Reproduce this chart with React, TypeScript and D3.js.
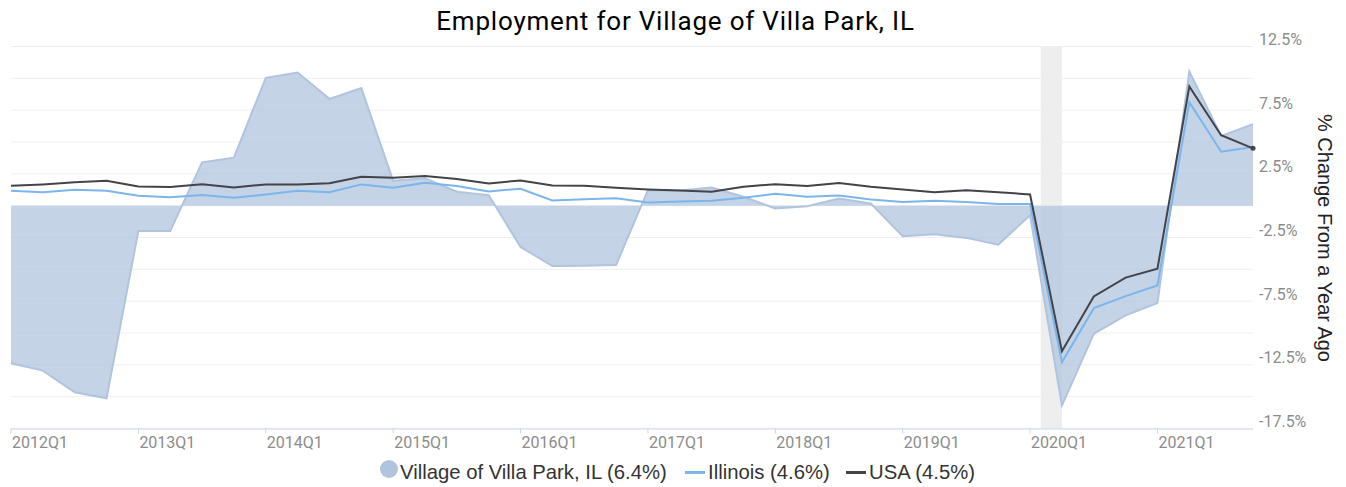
import React from "react";
import * as d3 from "d3";

const quarters: string[] = [];
for (let y = 2012; y <= 2021; y++) for (let q = 1; q <= 4; q++) quarters.push(`${y}Q${q}`);

const villaPark = [-12.38, -12.95, -14.66, -15.13, -1.98, -1.98, 3.4, 3.77, 10.04, 10.46, 8.39, 9.23, 1.95, 2.15, 1.09, 0.83, -3.24, -4.74, -4.71, -4.66, 1.22, 1.2, 1.43, 0.7, -0.22, -0.05, 0.57, 0.17, -2.4, -2.24, -2.53, -3.06, -0.75, -15.7, -10.06, -8.62, -7.65, 10.54, 5.47, 6.4];
const illinois = [1.17, 1.06, 1.25, 1.17, 0.77, 0.67, 0.83, 0.62, 0.88, 1.17, 1.06, 1.67, 1.4, 1.8, 1.54, 1.12, 1.33, 0.41, 0.51, 0.59, 0.25, 0.33, 0.38, 0.62, 0.93, 0.7, 0.8, 0.49, 0.28, 0.38, 0.28, 0.14, 0.14, -12.3, -8.05, -7.1, -6.26, 8.13, 4.24, 4.6];
const usa = [1.56, 1.67, 1.83, 1.95, 1.51, 1.46, 1.69, 1.43, 1.67, 1.67, 1.77, 2.27, 2.19, 2.32, 2.09, 1.75, 1.98, 1.59, 1.56, 1.4, 1.27, 1.19, 1.09, 1.48, 1.69, 1.54, 1.77, 1.48, 1.27, 1.06, 1.22, 1.06, 0.88, -11.43, -7.13, -5.65, -4.95, 9.36, 5.53, 4.5];

const gridValues = [12.5, 10, 7.5, 5, 2.5, 0, -2.5, -5, -7.5, -10, -12.5, -15, -17.5];
const yLabelValues = [12.5, 7.5, 2.5, -2.5, -7.5, -12.5, -17.5];
// recession band: Feb 2020 -> Apr 2020 (in quarter index units)
const recession = [32 + 1 / 3, 33];

const title = "Employment for Village of Villa Park, IL";
const yTitle = "% Change From a Year Ago";
const legendItems = [
  { label: "Village of Villa Park, IL (6.4%)", kind: "area" },
  { label: "Illinois (4.6%)", kind: "line", color: "#7cb5ec" },
  { label: "USA (4.5%)", kind: "line", color: "#434348" },
];

export default function App() {
  const W = 1346, H = 487;
  const x = d3.scaleLinear().domain([0, quarters.length - 1]).range([11, 1253]);
  const y = d3.scaleLinear().domain([-17.5, 12.5]).range([428.5, 46.5]);
  const idx = quarters.map((_, i) => i);

  const area = d3.area<number>().x((i) => x(i)).y0(y(0)).y1((i) => y(villaPark[i]));
  const areaLine = d3.line<number>().x((i) => x(i)).y((i) => y(villaPark[i]));
  const line = (arr: number[]) => d3.line<number>().x((i) => x(i)).y((i) => y(arr[i]))(idx) || "";

  const tickIdx = idx.filter((i) => quarters[i].endsWith("Q1"));
  const legendX = [389, 685, 846];

  return (
    <svg width={W} height={H} style={{ position: "absolute", left: 0, top: 0, background: "#fff" }}>
      <text x={675.5} y={30} textAnchor="middle" fontFamily="Roboto" fontSize={26} letterSpacing={0.8} fill="#000">{title}</text>
      {gridValues.map((v) => (
        <line key={v} x1={11} x2={1253} y1={y(v)} y2={y(v)} stroke="#efefef" strokeWidth={1} />
      ))}
      <rect x={x(recession[0])} y={y(12.5)} width={x(recession[1]) - x(recession[0])} height={y(-17.5) - y(12.5)} fill="#eeeeee" />
      <path d={area(idx) || ""} fill="#b0c4de" fillOpacity={0.75} />
      <path d={areaLine(idx) || ""} fill="none" stroke="#b0c4de" strokeWidth={2} />
      <path d={line(illinois)} fill="none" stroke="#7cb5ec" strokeWidth={2} />
      <path d={line(usa)} fill="none" stroke="#434348" strokeWidth={2} />
      <circle cx={x(39)} cy={y(usa[39])} r={2.5} fill="#434348" />
      <line x1={11} x2={1253} y1={y(-17.5) + 0.5} y2={y(-17.5) + 0.5} stroke="#ccd6eb" strokeWidth={1} />
      {tickIdx.map((i) => (
        <g key={i}>
          <line x1={x(i)} x2={x(i)} y1={y(-17.5)} y2={y(-17.5) + 5} stroke="#ccd6eb" />
          <text x={x(i) + 1} y={447.5} fontFamily="Roboto" fontSize={16} fill="#8c8c8c">{quarters[i]}</text>
        </g>
      ))}
      {yLabelValues.map((v) => (
        <text key={v} x={1259} y={y(v) - 1.5} fontFamily="Roboto" fontSize={16} fill="#8c8c8c">{`${v}%`}</text>
      ))}
      <text transform={`translate(1318,238) rotate(90)`} textAnchor="middle" fontFamily="Liberation Sans" fontSize={20} fill="#222">{yTitle}</text>
      {legendItems.map((it, k) => (
        <g key={it.label}>
          {it.kind === "area" ? (
            <circle cx={legendX[k]} cy={469} r={9} fill="#b0c4de" />
          ) : (
            <line x1={legendX[k]} x2={legendX[k] + 20} y1={472.5} y2={472.5} stroke={it.color} strokeWidth={3} />
          )}
          <text x={it.kind === "area" ? legendX[k] + 11 : legendX[k] + 23} y={479} fontFamily="Liberation Sans" fontSize={20.3} fill="#333">{it.label}</text>
        </g>
      ))}
    </svg>
  );
}
